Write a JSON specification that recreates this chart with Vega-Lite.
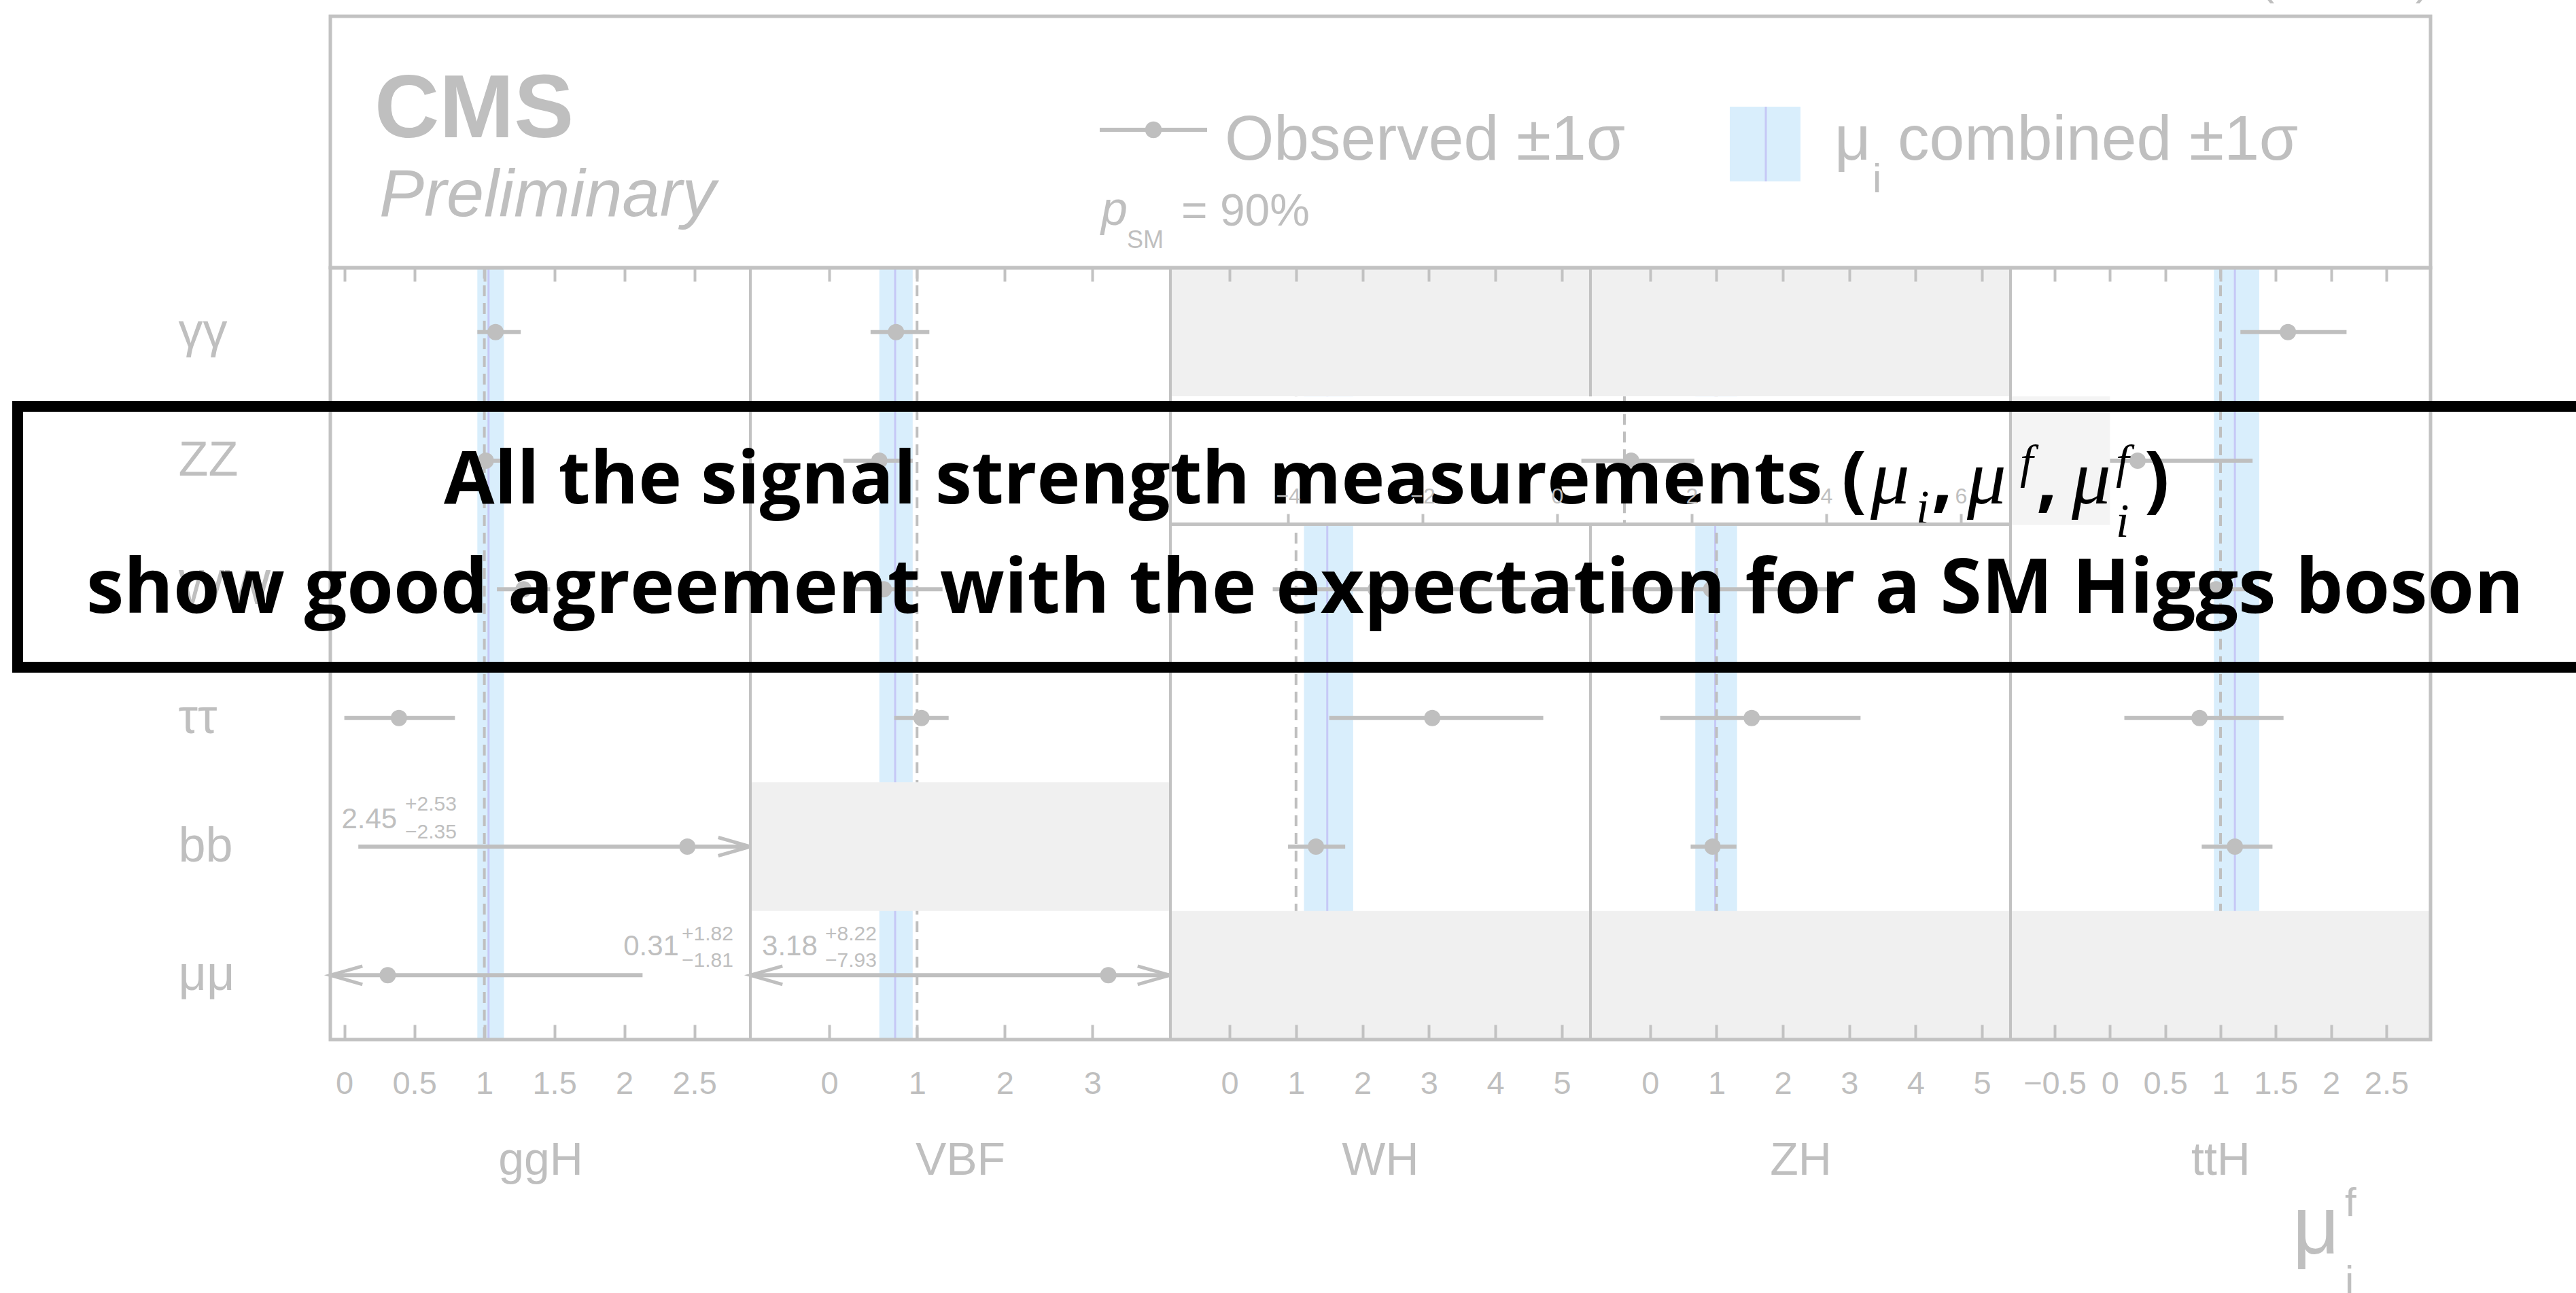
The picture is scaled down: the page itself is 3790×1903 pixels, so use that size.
{
"$schema":"https://vega.github.io/schema/vega-lite/v6.json",
"width":3790,"height":1903,"autosize":{"type":"none"},"padding":0,"background":"#ffffff",
"config":{"view":{"stroke":null},"font":"Liberation Sans"},
"datasets":{
"one":[{"n":1}],
"comb":[
{"panel":"ggH","mu":1.03,"lo":0.95,"hi":1.14},
{"panel":"VBF","mu":0.75,"lo":0.57,"hi":0.95},
{"panel":"WH","mu":1.47,"lo":1.12,"hi":1.86},
{"panel":"ZH","mu":0.98,"lo":0.68,"hi":1.31},
{"panel":"ttH","mu":1.13,"lo":0.94,"hi":1.35}
],
"meas":[
{"panel":"ggH","decay":"γγ","mu":1.08,"lo":0.95,"hi":1.26},
{"panel":"ggH","decay":"ZZ","mu":1.01,"lo":0.89,"hi":1.12},
{"panel":"ggH","decay":"WW","mu":1.28,"lo":1.09,"hi":1.47},
{"panel":"ggH","decay":"ττ","mu":0.39,"lo":0.0,"hi":0.79},
{"panel":"ggH","decay":"bb","mu":2.45,"lo":0.10,"hi":4.98,"up":2.53,"dn":-2.35},
{"panel":"ggH","decay":"μμ","mu":0.31,"lo":-1.50,"hi":2.13,"up":1.82,"dn":-1.81},
{"panel":"VBF","decay":"γγ","mu":0.76,"lo":0.47,"hi":1.14},
{"panel":"VBF","decay":"ZZ","mu":0.57,"lo":0.16,"hi":0.95},
{"panel":"VBF","decay":"WW","mu":0.62,"lo":0.19,"hi":1.29},
{"panel":"VBF","decay":"ττ","mu":1.05,"lo":0.74,"hi":1.36},
{"panel":"VBF","decay":"μμ","mu":3.18,"lo":-4.75,"hi":11.40,"up":8.22,"dn":-7.93},
{"panel":"WH","decay":"WW","mu":2.2,"lo":0.65,"hi":5.2},
{"panel":"WH","decay":"ττ","mu":3.05,"lo":1.50,"hi":4.72},
{"panel":"WH","decay":"bb","mu":1.30,"lo":0.88,"hi":1.74},
{"panel":"VH","decay":"ZZ","mu":1.10,"lo":0.36,"hi":2.04},
{"panel":"ZH","decay":"WW","mu":0.92,"lo":-0.54,"hi":2.70},
{"panel":"ZH","decay":"ττ","mu":1.53,"lo":0.15,"hi":3.17},
{"panel":"ZH","decay":"bb","mu":0.94,"lo":0.61,"hi":1.30},
{"panel":"ttH","decay":"γγ","mu":1.61,"lo":1.18,"hi":2.14},
{"panel":"ttH","decay":"ZZ","mu":0.25,"lo":0.0,"hi":1.29},
{"panel":"ttH","decay":"WW","mu":0.96,"lo":0.48,"hi":1.23},
{"panel":"ttH","decay":"ττ","mu":0.81,"lo":0.13,"hi":1.57},
{"panel":"ttH","decay":"bb","mu":1.13,"lo":0.83,"hi":1.47}
],
"empty":[
{"panel":"VBF","decay":"bb"},
{"panel":"WH","decay":"γγ"},
{"panel":"WH","decay":"μμ"},
{"panel":"ZH","decay":"γγ"},
{"panel":"ZH","decay":"μμ"},
{"panel":"ttH","decay":"μμ"}
]
},
"layer":[
{"layer":[
{"data":{"name":"comb"},"transform":[{"filter":"datum.panel==='ggH'"}],"mark":{"type":"rect","fill":"#d9eefc"},
"encoding":{"x":{"field":"lo","type":"quantitative","scale":{"domain":[-0.1,2.9],"range":[486,1104],"clamp":true,"nice":false,"zero":false},"axis":{"orient":"bottom","offset":-373,"values":[0,0.5,1,1.5,2,2.5],"format":"~g","labelOverlap":false,"labelFlush":false,"tickSize":-22,"tickWidth":4,"tickColor":"#c2c2c2","labelPadding":64,"labelFontSize":47,"labelColor":"#bfbfbf","labelFont":"Liberation Sans","domain":false,"grid":false,"title":"ggH","titleFontSize":68,"titleColor":"#bfbfbf","titleFont":"Liberation Sans","titleFontWeight":"normal","titleY":198,"titleBaseline":"alphabetic","zindex":1}},
"x2":{"field":"hi"},
"y":{"datum":"γγ","type":"nominal","bandPosition":0,"scale":{"domain":["γγ","ZZ","WW","ττ","bb","μμ"],"range":[394,1530],"paddingInner":0,"paddingOuter":0},"axis":{"orient":"left","offset":-486,"labelAlign":"left","labelPadding":224,"ticks":false,"domain":false,"grid":false,"labelFontSize":72,"labelColor":"#bfbfbf","labelFont":"Liberation Sans","labelBaseline":"middle","title":null,"zindex":0,"labelLimit":0}},
"y2":{"datum":"μμ","bandPosition":1}}},
{"data":{"name":"comb"},"transform":[{"filter":"datum.panel==='ggH'"}],"mark":{"type":"rule","stroke":"#c6c8f6","strokeWidth":3},
"encoding":{"x":{"field":"mu","type":"quantitative","axis":null},"y":{"datum":"γγ","type":"nominal","bandPosition":0,"axis":null},"y2":{"datum":"μμ","bandPosition":1}}},
{"data":{"name":"one"},"mark":{"type":"rule","stroke":"#bfbfbf","strokeWidth":4,"strokeDash":[16,10]},
"encoding":{"x":{"datum":1,"type":"quantitative","axis":{"orient":"top","offset":-394,"values":[0,0.5,1,1.5,2,2.5],"labels":false,"domain":false,"grid":false,"tickSize":-20,"tickWidth":4,"tickColor":"#c2c2c2","title":null,"zindex":1}},"y":{"datum":"γγ","type":"nominal","bandPosition":0,"axis":null},"y2":{"datum":"μμ","bandPosition":1}}},
{"data":{"name":"meas"},"transform":[{"filter":"datum.panel==='ggH'"}],"mark":{"type":"rule","stroke":"#bfbfbf","strokeWidth":6},
"encoding":{"x":{"field":"lo","type":"quantitative","axis":null},"x2":{"field":"hi"},"y":{"field":"decay","type":"nominal","axis":null}}},
{"data":{"name":"meas"},"transform":[{"filter":"datum.panel==='ggH'"}],"mark":{"type":"point","shape":"circle","filled":true,"color":"#bfbfbf","opacity":1,"size":576},
"encoding":{"x":{"field":"mu","type":"quantitative","axis":null},"y":{"field":"decay","type":"nominal","axis":null}}},
{"data":{"name":"meas"},"transform":[{"filter":"datum.panel==='ggH' && datum.hi>2.9"}],"mark":{"type":"point","shape":"M-3.5,-1L0,0L-3.5,1","filled":false,"stroke":"#bfbfbf","strokeWidth":5,"opacity":1,"size":729},
"encoding":{"x":{"field":"hi","type":"quantitative","axis":null},"y":{"field":"decay","type":"nominal","axis":null}}},
{"data":{"name":"meas"},"transform":[{"filter":"datum.panel==='ggH' && datum.lo<-0.1"}],"mark":{"type":"point","shape":"M3.5,-1L0,0L3.5,1","filled":false,"stroke":"#bfbfbf","strokeWidth":5,"opacity":1,"size":729},
"encoding":{"x":{"field":"lo","type":"quantitative","axis":null},"y":{"field":"decay","type":"nominal","axis":null}}},
{"data":{"name":"meas"},"transform":[{"filter":"datum.panel==='ggH' && datum.decay==='bb'"}],"mark":{"type":"text","align":"left","baseline":"alphabetic","dy":-27,"fontSize":42,"color":"#bfbfbf"},
"encoding":{"x":{"datum":-0.02,"type":"quantitative","axis":null},"y":{"field":"decay","type":"nominal","axis":null},"text":{"field":"mu","type":"quantitative","format":".2f"}}},
{"data":{"name":"meas"},"transform":[{"filter":"datum.panel==='ggH' && datum.decay==='bb'"}],"mark":{"type":"text","align":"left","baseline":"alphabetic","dy":-53,"fontSize":30,"color":"#bfbfbf"},
"encoding":{"x":{"datum":0.434,"type":"quantitative","axis":null},"y":{"field":"decay","type":"nominal","axis":null},"text":{"field":"up","type":"quantitative","format":"+.2f"}}},
{"data":{"name":"meas"},"transform":[{"filter":"datum.panel==='ggH' && datum.decay==='bb'"}],"mark":{"type":"text","align":"left","baseline":"alphabetic","dy":-12,"fontSize":30,"color":"#bfbfbf"},
"encoding":{"x":{"datum":0.434,"type":"quantitative","axis":null},"y":{"field":"decay","type":"nominal","axis":null},"text":{"field":"dn","type":"quantitative","format":".2f"}}},
{"data":{"name":"meas"},"transform":[{"filter":"datum.panel==='ggH' && datum.decay==='μμ'"}],"mark":{"type":"text","align":"left","baseline":"alphabetic","dy":-29,"fontSize":42,"color":"#bfbfbf"},
"encoding":{"x":{"datum":1.993,"type":"quantitative","axis":null},"y":{"field":"decay","type":"nominal","axis":null},"text":{"field":"mu","type":"quantitative","format":".2f"}}},
{"data":{"name":"meas"},"transform":[{"filter":"datum.panel==='ggH' && datum.decay==='μμ'"}],"mark":{"type":"text","align":"left","baseline":"alphabetic","dy":-51,"fontSize":30,"color":"#bfbfbf"},
"encoding":{"x":{"datum":2.41,"type":"quantitative","axis":null},"y":{"field":"decay","type":"nominal","axis":null},"text":{"field":"up","type":"quantitative","format":"+.2f"}}},
{"data":{"name":"meas"},"transform":[{"filter":"datum.panel==='ggH' && datum.decay==='μμ'"}],"mark":{"type":"text","align":"left","baseline":"alphabetic","dy":-12,"fontSize":30,"color":"#bfbfbf"},
"encoding":{"x":{"datum":2.41,"type":"quantitative","axis":null},"y":{"field":"decay","type":"nominal","axis":null},"text":{"field":"dn","type":"quantitative","format":".2f"}}}
],"resolve":{"axis":{"x":"independent","y":"independent"}}},

{"layer":[
{"data":{"name":"comb"},"transform":[{"filter":"datum.panel==='VBF'"}],"mark":{"type":"rect","fill":"#d9eefc"},
"encoding":{"x":{"field":"lo","type":"quantitative","scale":{"domain":[-0.9,3.88],"range":[1104,1721],"clamp":true,"nice":false,"zero":false},"axis":{"orient":"bottom","offset":-373,"values":[0,1,2,3],"format":"~g","labelOverlap":false,"labelFlush":false,"tickSize":-22,"tickWidth":4,"tickColor":"#c2c2c2","labelPadding":64,"labelFontSize":47,"labelColor":"#bfbfbf","labelFont":"Liberation Sans","domain":false,"grid":false,"title":"VBF","titleFontSize":68,"titleColor":"#bfbfbf","titleFont":"Liberation Sans","titleFontWeight":"normal","titleY":198,"titleBaseline":"alphabetic","zindex":1}},
"x2":{"field":"hi"},
"y":{"datum":"γγ","type":"nominal","bandPosition":0,"scale":{"domain":["γγ","ZZ","WW","ττ","bb","μμ"],"range":[394,1530],"paddingInner":0,"paddingOuter":0},"axis":null},
"y2":{"datum":"μμ","bandPosition":1}}},
{"data":{"name":"comb"},"transform":[{"filter":"datum.panel==='VBF'"}],"mark":{"type":"rule","stroke":"#c6c8f6","strokeWidth":3},
"encoding":{"x":{"field":"mu","type":"quantitative","axis":null},"y":{"datum":"γγ","type":"nominal","bandPosition":0,"axis":null},"y2":{"datum":"μμ","bandPosition":1}}},
{"data":{"name":"one"},"mark":{"type":"rule","stroke":"#bfbfbf","strokeWidth":4,"strokeDash":[16,10]},
"encoding":{"x":{"datum":1,"type":"quantitative","axis":{"orient":"top","offset":-394,"values":[0,1,2,3],"labels":false,"domain":false,"grid":false,"tickSize":-20,"tickWidth":4,"tickColor":"#c2c2c2","title":null,"zindex":1}},"y":{"datum":"γγ","type":"nominal","bandPosition":0,"axis":null},"y2":{"datum":"μμ","bandPosition":1}}},
{"data":{"name":"empty"},"transform":[{"filter":"datum.panel==='VBF'"}],"mark":{"type":"rect","fill":"#f0f0f0"},
"encoding":{"x":{"datum":-0.9,"type":"quantitative","axis":null},"x2":{"datum":3.88},"y":{"field":"decay","type":"nominal","axis":null}}},
{"data":{"name":"meas"},"transform":[{"filter":"datum.panel==='VBF'"}],"mark":{"type":"rule","stroke":"#bfbfbf","strokeWidth":6},
"encoding":{"x":{"field":"lo","type":"quantitative","axis":null},"x2":{"field":"hi"},"y":{"field":"decay","type":"nominal","axis":null}}},
{"data":{"name":"meas"},"transform":[{"filter":"datum.panel==='VBF'"}],"mark":{"type":"point","shape":"circle","filled":true,"color":"#bfbfbf","opacity":1,"size":576},
"encoding":{"x":{"field":"mu","type":"quantitative","axis":null},"y":{"field":"decay","type":"nominal","axis":null}}},
{"data":{"name":"meas"},"transform":[{"filter":"datum.panel==='VBF' && datum.hi>3.88"}],"mark":{"type":"point","shape":"M-3.5,-1L0,0L-3.5,1","filled":false,"stroke":"#bfbfbf","strokeWidth":5,"opacity":1,"size":729},
"encoding":{"x":{"field":"hi","type":"quantitative","axis":null},"y":{"field":"decay","type":"nominal","axis":null}}},
{"data":{"name":"meas"},"transform":[{"filter":"datum.panel==='VBF' && datum.lo<-0.9"}],"mark":{"type":"point","shape":"M3.5,-1L0,0L3.5,1","filled":false,"stroke":"#bfbfbf","strokeWidth":5,"opacity":1,"size":729},
"encoding":{"x":{"field":"lo","type":"quantitative","axis":null},"y":{"field":"decay","type":"nominal","axis":null}}},
{"data":{"name":"meas"},"transform":[{"filter":"datum.panel==='VBF' && datum.decay==='μμ'"}],"mark":{"type":"text","align":"left","baseline":"alphabetic","dy":-29,"fontSize":42,"color":"#bfbfbf"},
"encoding":{"x":{"datum":-0.768,"type":"quantitative","axis":null},"y":{"field":"decay","type":"nominal","axis":null},"text":{"field":"mu","type":"quantitative","format":".2f"}}},
{"data":{"name":"meas"},"transform":[{"filter":"datum.panel==='VBF' && datum.decay==='μμ'"}],"mark":{"type":"text","align":"left","baseline":"alphabetic","dy":-51,"fontSize":30,"color":"#bfbfbf"},
"encoding":{"x":{"datum":-0.048,"type":"quantitative","axis":null},"y":{"field":"decay","type":"nominal","axis":null},"text":{"field":"up","type":"quantitative","format":"+.2f"}}},
{"data":{"name":"meas"},"transform":[{"filter":"datum.panel==='VBF' && datum.decay==='μμ'"}],"mark":{"type":"text","align":"left","baseline":"alphabetic","dy":-12,"fontSize":30,"color":"#bfbfbf"},
"encoding":{"x":{"datum":-0.048,"type":"quantitative","axis":null},"y":{"field":"decay","type":"nominal","axis":null},"text":{"field":"dn","type":"quantitative","format":".2f"}}}
],"resolve":{"axis":{"x":"independent","y":"independent"}}},

{"layer":[
{"data":{"name":"comb"},"transform":[{"filter":"datum.panel==='WH'"}],"mark":{"type":"rect","fill":"#d9eefc"},
"encoding":{"x":{"field":"lo","type":"quantitative","scale":{"domain":[-0.9,5.43],"range":[1721,2340],"clamp":true,"nice":false,"zero":false},"axis":{"orient":"bottom","offset":-373,"values":[0,1,2,3,4,5],"format":"~g","labelOverlap":false,"labelFlush":false,"tickSize":-22,"tickWidth":4,"tickColor":"#c2c2c2","labelPadding":64,"labelFontSize":47,"labelColor":"#bfbfbf","labelFont":"Liberation Sans","domain":false,"grid":false,"title":"WH","titleFontSize":68,"titleColor":"#bfbfbf","titleFont":"Liberation Sans","titleFontWeight":"normal","titleY":198,"titleBaseline":"alphabetic","zindex":1}},
"x2":{"field":"hi"},
"y":{"datum":"γγ","type":"nominal","bandPosition":0,"scale":{"domain":["γγ","ZZ","WW","ττ","bb","μμ"],"range":[394,1530],"paddingInner":0,"paddingOuter":0},"axis":null},
"y2":{"datum":"μμ","bandPosition":1}}},
{"data":{"name":"comb"},"transform":[{"filter":"datum.panel==='WH'"}],"mark":{"type":"rule","stroke":"#c6c8f6","strokeWidth":3},
"encoding":{"x":{"field":"mu","type":"quantitative","axis":null},"y":{"datum":"γγ","type":"nominal","bandPosition":0,"axis":null},"y2":{"datum":"μμ","bandPosition":1}}},
{"data":{"name":"one"},"mark":{"type":"rule","stroke":"#bfbfbf","strokeWidth":4,"strokeDash":[16,10]},
"encoding":{"x":{"datum":1,"type":"quantitative","axis":{"orient":"top","offset":-394,"values":[0,1,2,3,4,5],"labels":false,"domain":false,"grid":false,"tickSize":-20,"tickWidth":4,"tickColor":"#c2c2c2","title":null,"zindex":1}},"y":{"datum":"γγ","type":"nominal","bandPosition":0,"axis":null},"y2":{"datum":"μμ","bandPosition":1}}},
{"data":{"name":"empty"},"transform":[{"filter":"datum.panel==='WH'"}],"mark":{"type":"rect","fill":"#f0f0f0"},
"encoding":{"x":{"datum":-0.9,"type":"quantitative","axis":null},"x2":{"datum":5.43},"y":{"field":"decay","type":"nominal","axis":null}}},
{"data":{"name":"meas"},"transform":[{"filter":"datum.panel==='WH'"}],"mark":{"type":"rule","stroke":"#bfbfbf","strokeWidth":6},
"encoding":{"x":{"field":"lo","type":"quantitative","axis":null},"x2":{"field":"hi"},"y":{"field":"decay","type":"nominal","axis":null}}},
{"data":{"name":"meas"},"transform":[{"filter":"datum.panel==='WH'"}],"mark":{"type":"point","shape":"circle","filled":true,"color":"#bfbfbf","opacity":1,"size":576},
"encoding":{"x":{"field":"mu","type":"quantitative","axis":null},"y":{"field":"decay","type":"nominal","axis":null}}}
],"resolve":{"axis":{"x":"independent","y":"independent"}}},

{"layer":[
{"data":{"name":"comb"},"transform":[{"filter":"datum.panel==='ZH'"}],"mark":{"type":"rect","fill":"#d9eefc"},
"encoding":{"x":{"field":"lo","type":"quantitative","scale":{"domain":[-0.9,5.43],"range":[2340,2958],"clamp":true,"nice":false,"zero":false},"axis":{"orient":"bottom","offset":-373,"values":[0,1,2,3,4,5],"format":"~g","labelOverlap":false,"labelFlush":false,"tickSize":-22,"tickWidth":4,"tickColor":"#c2c2c2","labelPadding":64,"labelFontSize":47,"labelColor":"#bfbfbf","labelFont":"Liberation Sans","domain":false,"grid":false,"title":"ZH","titleFontSize":68,"titleColor":"#bfbfbf","titleFont":"Liberation Sans","titleFontWeight":"normal","titleY":198,"titleBaseline":"alphabetic","zindex":1}},
"x2":{"field":"hi"},
"y":{"datum":"γγ","type":"nominal","bandPosition":0,"scale":{"domain":["γγ","ZZ","WW","ττ","bb","μμ"],"range":[394,1530],"paddingInner":0,"paddingOuter":0},"axis":null},
"y2":{"datum":"μμ","bandPosition":1}}},
{"data":{"name":"comb"},"transform":[{"filter":"datum.panel==='ZH'"}],"mark":{"type":"rule","stroke":"#c6c8f6","strokeWidth":3},
"encoding":{"x":{"field":"mu","type":"quantitative","axis":null},"y":{"datum":"γγ","type":"nominal","bandPosition":0,"axis":null},"y2":{"datum":"μμ","bandPosition":1}}},
{"data":{"name":"one"},"mark":{"type":"rule","stroke":"#bfbfbf","strokeWidth":4,"strokeDash":[16,10]},
"encoding":{"x":{"datum":1,"type":"quantitative","axis":{"orient":"top","offset":-394,"values":[0,1,2,3,4,5],"labels":false,"domain":false,"grid":false,"tickSize":-20,"tickWidth":4,"tickColor":"#c2c2c2","title":null,"zindex":1}},"y":{"datum":"γγ","type":"nominal","bandPosition":0,"axis":null},"y2":{"datum":"μμ","bandPosition":1}}},
{"data":{"name":"empty"},"transform":[{"filter":"datum.panel==='ZH'"}],"mark":{"type":"rect","fill":"#f0f0f0"},
"encoding":{"x":{"datum":-0.9,"type":"quantitative","axis":null},"x2":{"datum":5.43},"y":{"field":"decay","type":"nominal","axis":null}}},
{"data":{"name":"meas"},"transform":[{"filter":"datum.panel==='ZH'"}],"mark":{"type":"rule","stroke":"#bfbfbf","strokeWidth":6},
"encoding":{"x":{"field":"lo","type":"quantitative","axis":null},"x2":{"field":"hi"},"y":{"field":"decay","type":"nominal","axis":null}}},
{"data":{"name":"meas"},"transform":[{"filter":"datum.panel==='ZH'"}],"mark":{"type":"point","shape":"circle","filled":true,"color":"#bfbfbf","opacity":1,"size":576},
"encoding":{"x":{"field":"mu","type":"quantitative","axis":null},"y":{"field":"decay","type":"nominal","axis":null}}}
],"resolve":{"axis":{"x":"independent","y":"independent"}}},

{"layer":[
{"data":{"name":"comb"},"transform":[{"filter":"datum.panel==='ttH'"}],"mark":{"type":"rect","fill":"#d9eefc"},
"encoding":{"x":{"field":"lo","type":"quantitative","scale":{"domain":[-0.9,2.9],"range":[2958,3576],"clamp":true,"nice":false,"zero":false},"axis":{"orient":"bottom","offset":-373,"values":[-0.5,0,0.5,1,1.5,2,2.5],"format":"~g","labelOverlap":false,"labelFlush":false,"tickSize":-22,"tickWidth":4,"tickColor":"#c2c2c2","labelPadding":64,"labelFontSize":47,"labelColor":"#bfbfbf","labelFont":"Liberation Sans","domain":false,"grid":false,"title":"ttH","titleFontSize":68,"titleColor":"#bfbfbf","titleFont":"Liberation Sans","titleFontWeight":"normal","titleY":198,"titleBaseline":"alphabetic","zindex":1}},
"x2":{"field":"hi"},
"y":{"datum":"γγ","type":"nominal","bandPosition":0,"scale":{"domain":["γγ","ZZ","WW","ττ","bb","μμ"],"range":[394,1530],"paddingInner":0,"paddingOuter":0},"axis":null},
"y2":{"datum":"μμ","bandPosition":1}}},
{"data":{"name":"comb"},"transform":[{"filter":"datum.panel==='ttH'"}],"mark":{"type":"rule","stroke":"#c6c8f6","strokeWidth":3},
"encoding":{"x":{"field":"mu","type":"quantitative","axis":null},"y":{"datum":"γγ","type":"nominal","bandPosition":0,"axis":null},"y2":{"datum":"μμ","bandPosition":1}}},
{"data":{"name":"one"},"mark":{"type":"rule","stroke":"#bfbfbf","strokeWidth":4,"strokeDash":[16,10]},
"encoding":{"x":{"datum":1,"type":"quantitative","axis":{"orient":"top","offset":-394,"values":[-0.5,0,0.5,1,1.5,2,2.5],"labels":false,"domain":false,"grid":false,"tickSize":-20,"tickWidth":4,"tickColor":"#c2c2c2","title":null,"zindex":1}},"y":{"datum":"γγ","type":"nominal","bandPosition":0,"axis":null},"y2":{"datum":"μμ","bandPosition":1}}},
{"data":{"name":"empty"},"transform":[{"filter":"datum.panel==='ttH'"}],"mark":{"type":"rect","fill":"#f0f0f0"},
"encoding":{"x":{"datum":-0.9,"type":"quantitative","axis":null},"x2":{"datum":2.9},"y":{"field":"decay","type":"nominal","axis":null}}},
{"data":{"name":"one"},"mark":{"type":"rect","fill":"#f4f4f4"},
"encoding":{"x":{"datum":-0.9,"type":"quantitative","axis":null},"x2":{"datum":0},"y":{"datum":"ZZ","type":"nominal","axis":null}}},
{"data":{"name":"meas"},"transform":[{"filter":"datum.panel==='ttH'"}],"mark":{"type":"rule","stroke":"#bfbfbf","strokeWidth":6},
"encoding":{"x":{"field":"lo","type":"quantitative","axis":null},"x2":{"field":"hi"},"y":{"field":"decay","type":"nominal","axis":null}}},
{"data":{"name":"meas"},"transform":[{"filter":"datum.panel==='ttH'"}],"mark":{"type":"point","shape":"circle","filled":true,"color":"#bfbfbf","opacity":1,"size":576},
"encoding":{"x":{"field":"mu","type":"quantitative","axis":null},"y":{"field":"decay","type":"nominal","axis":null}}}
],"resolve":{"axis":{"x":"independent","y":"independent"}}},

{"layer":[
{"data":{"name":"one"},"mark":{"type":"rect","fill":"#ffffff"},
"encoding":{"x":{"datum":-5.76,"type":"quantitative","scale":{"domain":[-5.76,6.74],"range":[1721,2958],"clamp":true,"nice":false,"zero":false},"axis":{"orient":"bottom","offset":-1132,"values":[-4,-2,0,2,4,6],"format":"~g","labelOverlap":false,"labelFlush":false,"tickSize":-15,"tickWidth":4,"tickColor":"#c2c2c2","labelPadding":-16,"labelBaseline":"alphabetic","labelFontSize":32,"labelColor":"#bfbfbf","labelFont":"Liberation Sans","domain":true,"domainColor":"#c2c2c2","domainWidth":5,"grid":false,"title":null,"zindex":1}},
"x2":{"datum":6.74},
"y":{"datum":"ZZ","type":"nominal","scale":{"domain":["γγ","ZZ","WW","ττ","bb","μμ"],"range":[394,1530],"paddingInner":0,"paddingOuter":0},"axis":null}}},
{"data":{"name":"one"},"mark":{"type":"rule","stroke":"#bfbfbf","strokeWidth":4,"strokeDash":[16,10]},
"encoding":{"x":{"datum":1,"type":"quantitative","axis":null},"y":{"datum":"ZZ","type":"nominal","bandPosition":0,"axis":null},"y2":{"datum":"ZZ","bandPosition":1}}},
{"data":{"name":"meas"},"transform":[{"filter":"datum.panel==='VH'"}],"mark":{"type":"rule","stroke":"#bfbfbf","strokeWidth":6},
"encoding":{"x":{"field":"lo","type":"quantitative","axis":null},"x2":{"field":"hi"},"y":{"field":"decay","type":"nominal","axis":null}}},
{"data":{"name":"meas"},"transform":[{"filter":"datum.panel==='VH'"}],"mark":{"type":"point","shape":"circle","filled":true,"color":"#bfbfbf","opacity":1,"size":576},
"encoding":{"x":{"field":"mu","type":"quantitative","axis":null},"y":{"field":"decay","type":"nominal","axis":null}}}
],"resolve":{"axis":{"x":"independent","y":"independent"}}},

{"data":{"name":"one"},"layer":[
{"mark":{"type":"rect","fill":"transparent","stroke":"#c2c2c2","strokeWidth":5},
"encoding":{"x":{"datum":0,"type":"quantitative","scale":{"domain":[0,5],"range":[486,3576],"nice":false,"zero":false},"axis":null},"x2":{"datum":5},
"y":{"datum":"γγ","type":"nominal","bandPosition":0,"scale":{"domain":["γγ","ZZ","WW","ττ","bb","μμ"],"range":[394,1530],"paddingInner":0,"paddingOuter":0},"axis":null},"y2":{"datum":"μμ","bandPosition":1}}},
{"mark":{"type":"rule","stroke":"#c2c2c2","strokeWidth":4},"encoding":{"x":{"datum":1,"type":"quantitative","axis":null},"y":{"datum":"γγ","type":"nominal","bandPosition":0,"axis":null},"y2":{"datum":"μμ","bandPosition":1}}},
{"mark":{"type":"rule","stroke":"#c2c2c2","strokeWidth":4},"encoding":{"x":{"datum":2,"type":"quantitative","axis":null},"y":{"datum":"γγ","type":"nominal","bandPosition":0,"axis":null},"y2":{"datum":"μμ","bandPosition":1}}},
{"mark":{"type":"rule","stroke":"#c2c2c2","strokeWidth":4},"encoding":{"x":{"datum":4,"type":"quantitative","axis":null},"y":{"datum":"γγ","type":"nominal","bandPosition":0,"axis":null},"y2":{"datum":"μμ","bandPosition":1}}},
{"mark":{"type":"rule","stroke":"#c2c2c2","strokeWidth":4},"encoding":{"x":{"datum":3,"type":"quantitative","axis":null},"y":{"datum":"γγ","type":"nominal","bandPosition":0,"axis":null},"y2":{"datum":"γγ","bandPosition":1}}},
{"mark":{"type":"rule","stroke":"#c2c2c2","strokeWidth":4},"encoding":{"x":{"datum":3,"type":"quantitative","axis":null},"y":{"datum":"WW","type":"nominal","bandPosition":0,"axis":null},"y2":{"datum":"μμ","bandPosition":1}}}
],"resolve":{"axis":{"x":"independent","y":"independent"}}},

{"data":{"name":"one"},"layer":[
{"mark":{"type":"rect","fill":"transparent","stroke":"#c2c2c2","strokeWidth":5},
"encoding":{"x":{"datum":0,"type":"quantitative","scale":{"domain":[0,1],"range":[486,3576],"nice":false,"zero":false},"axis":null},"x2":{"datum":1},
"y":{"datum":0,"type":"quantitative","scale":{"domain":[0,1],"range":[24,394],"nice":false,"zero":false},"axis":null},"y2":{"datum":1}}},
{"mark":{"type":"text","text":"CMS","font":"Liberation Sans","fontWeight":"bold","fontSize":132,"align":"left","baseline":"alphabetic","color":"#bfbfbf"},
"encoding":{"x":{"datum":0.02104,"type":"quantitative","axis":null},"y":{"datum":0.48108,"type":"quantitative","axis":null}}},
{"mark":{"type":"text","text":"Preliminary","font":"Liberation Sans","fontStyle":"italic","fontSize":99,"align":"left","baseline":"alphabetic","color":"#bfbfbf"},
"encoding":{"x":{"datum":0.0233,"type":"quantitative","axis":null},"y":{"datum":0.79459,"type":"quantitative","axis":null}}},
{"mark":{"type":"rule","stroke":"#bfbfbf","strokeWidth":6},
"encoding":{"x":{"datum":0.36634,"type":"quantitative","axis":null},"x2":{"datum":0.41748},"y":{"datum":0.45135,"type":"quantitative","axis":null}}},
{"mark":{"type":"point","shape":"circle","filled":true,"color":"#bfbfbf","opacity":1,"size":600},
"encoding":{"x":{"datum":0.39191,"type":"quantitative","axis":null},"y":{"datum":0.45135,"type":"quantitative","axis":null}}},
{"mark":{"type":"text","text":"Observed ±1σ","fontSize":93,"align":"left","baseline":"alphabetic","color":"#bfbfbf"},
"encoding":{"x":{"datum":0.42589,"type":"quantitative","axis":null},"y":{"datum":0.57027,"type":"quantitative","axis":null}}},
{"mark":{"type":"rect","fill":"#d9eefc"},
"encoding":{"x":{"datum":0.66634,"type":"quantitative","axis":null},"x2":{"datum":0.7},"y":{"datum":0.35946,"type":"quantitative","axis":null},"y2":{"datum":0.65676}}},
{"mark":{"type":"rule","stroke":"#c6c8f6","strokeWidth":3},
"encoding":{"x":{"datum":0.6835,"type":"quantitative","axis":null},"y":{"datum":0.35946,"type":"quantitative","axis":null},"y2":{"datum":0.65676}}},
{"mark":{"type":"text","text":"μ","fontSize":93,"align":"left","baseline":"alphabetic","color":"#bfbfbf"},
"encoding":{"x":{"datum":0.71618,"type":"quantitative","axis":null},"y":{"datum":0.57027,"type":"quantitative","axis":null}}},
{"mark":{"type":"text","text":"i","fontSize":60,"align":"left","baseline":"alphabetic","color":"#bfbfbf"},
"encoding":{"x":{"datum":0.7343,"type":"quantitative","axis":null},"y":{"datum":0.7,"type":"quantitative","axis":null}}},
{"mark":{"type":"text","text":"combined ±1σ","fontSize":93,"align":"left","baseline":"alphabetic","color":"#bfbfbf"},
"encoding":{"x":{"datum":0.74628,"type":"quantitative","axis":null},"y":{"datum":0.57027,"type":"quantitative","axis":null}}},
{"mark":{"type":"text","text":"p","fontStyle":"italic","fontSize":70,"align":"left","baseline":"alphabetic","color":"#bfbfbf"},
"encoding":{"x":{"datum":0.36699,"type":"quantitative","axis":null},"y":{"datum":0.82973,"type":"quantitative","axis":null}}},
{"mark":{"type":"text","text":"SM","fontSize":36,"align":"left","baseline":"alphabetic","color":"#bfbfbf"},
"encoding":{"x":{"datum":0.37929,"type":"quantitative","axis":null},"y":{"datum":0.92162,"type":"quantitative","axis":null}}},
{"mark":{"type":"text","text":"= 90%","fontSize":66,"align":"left","baseline":"alphabetic","color":"#bfbfbf"},
"encoding":{"x":{"datum":0.40518,"type":"quantitative","axis":null},"y":{"datum":0.83243,"type":"quantitative","axis":null}}}
]},

{"data":{"name":"one"},"layer":[
{"mark":{"type":"rect","fill":"transparent","stroke":"#000000","strokeWidth":16},
"encoding":{"x":{"datum":0.00686,"type":"quantitative","scale":{"domain":[0,1],"range":[0,3790],"nice":false,"zero":false},"axis":null},"x2":{"datum":1.00264},
"y":{"datum":0.31424,"type":"quantitative","scale":{"domain":[0,1],"range":[0,1903],"nice":false,"zero":false},"axis":null},"y2":{"datum":0.51603}}},
{"mark":{"type":"text","text":"show good agreement with the expectation for a SM Higgs boson","font":"Open Sans","fontWeight":"bold","fontSize":111,"align":"center","baseline":"alphabetic","color":"#000000"},
"encoding":{"x":{"datum":0.5066,"type":"quantitative","axis":null},"y":{"datum":0.47399,"type":"quantitative","axis":null}}},
{"mark":{"type":"text","text":"All the signal strength measurements (","font":"Open Sans","fontWeight":"bold","fontSize":108,"align":"right","baseline":"alphabetic","color":"#000000"},
"encoding":{"x":{"datum":0.72454,"type":"quantitative","axis":null},"y":{"datum":0.38939,"type":"quantitative","axis":null}}},
{"mark":{"type":"text","text":"μ","font":"Liberation Serif","fontStyle":"italic","fontSize":115,"align":"left","baseline":"alphabetic","color":"#000000"},
"encoding":{"x":{"datum":0.72612,"type":"quantitative","axis":null},"y":{"datum":0.38939,"type":"quantitative","axis":null}}},
{"mark":{"type":"text","text":"i","font":"Liberation Serif","fontStyle":"italic","fontSize":70,"align":"left","baseline":"alphabetic","color":"#000000"},
"encoding":{"x":{"datum":0.7438,"type":"quantitative","axis":null},"y":{"datum":0.40462,"type":"quantitative","axis":null}}},
{"mark":{"type":"text","text":",","font":"Open Sans","fontWeight":"bold","fontSize":108,"align":"left","baseline":"alphabetic","color":"#000000"},
"encoding":{"x":{"datum":0.74987,"type":"quantitative","axis":null},"y":{"datum":0.38939,"type":"quantitative","axis":null}}},
{"mark":{"type":"text","text":"μ","font":"Liberation Serif","fontStyle":"italic","fontSize":115,"align":"left","baseline":"alphabetic","color":"#000000"},
"encoding":{"x":{"datum":0.76359,"type":"quantitative","axis":null},"y":{"datum":0.38939,"type":"quantitative","axis":null}}},
{"mark":{"type":"text","text":"f","font":"Liberation Serif","fontStyle":"italic","fontSize":70,"align":"left","baseline":"alphabetic","color":"#000000"},
"encoding":{"x":{"datum":0.78417,"type":"quantitative","axis":null},"y":{"datum":0.36942,"type":"quantitative","axis":null}}},
{"mark":{"type":"text","text":",","font":"Open Sans","fontWeight":"bold","fontSize":108,"align":"left","baseline":"alphabetic","color":"#000000"},
"encoding":{"x":{"datum":0.7905,"type":"quantitative","axis":null},"y":{"datum":0.38939,"type":"quantitative","axis":null}}},
{"mark":{"type":"text","text":"μ","font":"Liberation Serif","fontStyle":"italic","fontSize":115,"align":"left","baseline":"alphabetic","color":"#000000"},
"encoding":{"x":{"datum":0.80422,"type":"quantitative","axis":null},"y":{"datum":0.38939,"type":"quantitative","axis":null}}},
{"mark":{"type":"text","text":"f","font":"Liberation Serif","fontStyle":"italic","fontSize":70,"align":"left","baseline":"alphabetic","color":"#000000"},
"encoding":{"x":{"datum":0.82137,"type":"quantitative","axis":null},"y":{"datum":0.36942,"type":"quantitative","axis":null}}},
{"mark":{"type":"text","text":"i","font":"Liberation Serif","fontStyle":"italic","fontSize":70,"align":"left","baseline":"alphabetic","color":"#000000"},
"encoding":{"x":{"datum":0.82137,"type":"quantitative","axis":null},"y":{"datum":0.41513,"type":"quantitative","axis":null}}},
{"mark":{"type":"text","text":")","font":"Open Sans","fontWeight":"bold","fontSize":108,"align":"left","baseline":"alphabetic","color":"#000000"},
"encoding":{"x":{"datum":0.83245,"type":"quantitative","axis":null},"y":{"datum":0.38939,"type":"quantitative","axis":null}}},
{"mark":{"type":"text","text":"μ","fontSize":120,"align":"left","baseline":"alphabetic","color":"#bfbfbf"},
"encoding":{"x":{"datum":0.88997,"type":"quantitative","axis":null},"y":{"datum":0.96952,"type":"quantitative","axis":null}}},
{"mark":{"type":"text","text":"f","fontSize":60,"align":"left","baseline":"alphabetic","color":"#bfbfbf"},
"encoding":{"x":{"datum":0.91029,"type":"quantitative","axis":null},"y":{"datum":0.94062,"type":"quantitative","axis":null}}},
{"mark":{"type":"text","text":"i","fontSize":60,"align":"left","baseline":"alphabetic","color":"#bfbfbf"},
"encoding":{"x":{"datum":0.91029,"type":"quantitative","axis":null},"y":{"datum":1.00105,"type":"quantitative","axis":null}}},
{"mark":{"type":"text","text":"137 fb⁻¹ (13 TeV)","fontSize":67,"align":"right","baseline":"alphabetic","color":"#bfbfbf"},
"encoding":{"x":{"datum":0.94354,"type":"quantitative","axis":null},"y":{"datum":-0.00473,"type":"quantitative","axis":null}}}
]}
],
"resolve":{"scale":{"x":"independent","y":"independent"},"axis":{"x":"independent","y":"independent"}}
}
